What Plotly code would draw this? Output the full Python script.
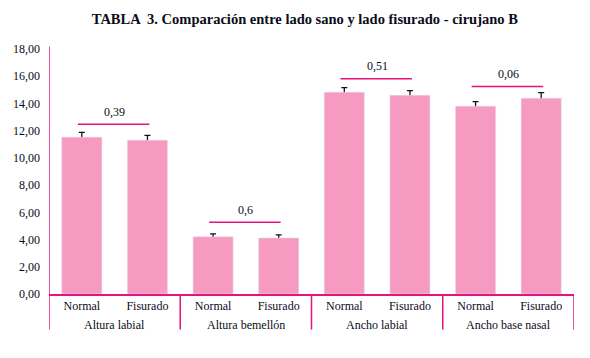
import plotly.graph_objects as go

groups = ["Altura labial", "Altura bemellón", "Ancho labial", "Ancho base nasal"]
sides = ["Normal", "Fisurado"]
values = [11.52, 11.30, 4.20, 4.12, 14.82, 14.60, 13.79, 14.38]
errors = [0.35, 0.35, 0.22, 0.22, 0.34, 0.34, 0.35, 0.42]
p_values = ["0,39", "0,6", "0,51", "0,06"]
bracket_y = [12.48, 5.27, 15.82, 15.24]
y_ticks = [0, 2, 4, 6, 8, 10, 12, 14, 16, 18]
y_tick_labels = ["0,00", "2,00", "4,00", "6,00", "8,00", "10,00", "12,00", "14,00", "16,00", "18,00"]

PINK = "#F69AC1"
MAG = "#E5127F"
TXT = "#0b0b1a"
FONT = "'Liberation Serif', 'Times New Roman', serif"

x = list(range(len(values)))
fig = go.Figure()
# bars with symmetric error bars
fig.add_trace(go.Bar(
    x=x, y=values, marker_color=PINK, width=0.61,
    error_y=dict(type="data", array=errors, color="#111111", thickness=1.3, width=3),
    hoverinfo="skip"))
# same bars drawn on top to hide the lower half of the error bars
fig.add_trace(go.Bar(
    x=x, y=values, marker_color=PINK, width=0.61, hoverinfo="skip"))

shapes = []
annotations = []
for g, name in enumerate(groups):
    x0 = 2 * g
    x1 = 2 * g + 1
    shapes.append(dict(type="line", xref="x", yref="y", x0=x0 - 0.06, x1=x1 + 0.03,
                       y0=bracket_y[g], y1=bracket_y[g], line=dict(color=MAG, width=1.5)))
    annotations.append(dict(x=(x0 + x1) / 2, y=bracket_y[g] + 0.9, xref="x", yref="y",
                            text=p_values[g], showarrow=False, yanchor="middle",
                            font=dict(family=FONT, size=12, color=TXT)))
    annotations.append(dict(x=(x0 + x1) / 2, y=-0.128, xref="x", yref="paper",
                            text=name, showarrow=False, yanchor="middle",
                            font=dict(family=FONT, size=12, color=TXT)))
for k in range(len(groups) + 1):
    shapes.append(dict(type="line", xref="x", yref="paper", x0=2 * k - 0.5, x1=2 * k - 0.5,
                       y0=-0.145, y1=0, line=dict(color=MAG, width=1.5)))
shapes.append(dict(type="line", xref="x", yref="paper", x0=-0.5, x1=-0.5,
                   y0=0, y1=1.01, line=dict(color=MAG, width=1.5)))

fig.update_layout(
    width=582, height=350,
    margin=dict(l=41, r=16, t=41, b=64),
    barmode="overlay",
    plot_bgcolor="white", paper_bgcolor="white",
    showlegend=False,
    title=dict(text="<b>TABLA  3. Comparación entre lado sano y lado fisurado - cirujano B</b>",
               x=0.51, xanchor="center", y=0.97, yanchor="middle",
               font=dict(family=FONT, size=14.5, color=TXT)),
    xaxis=dict(range=[-0.5, 7.5], tickvals=x, ticktext=sides * len(groups),
               showgrid=False, zeroline=False, showline=True, linecolor=MAG, linewidth=1.5,
               ticks="", automargin=False, tickfont=dict(family=FONT, size=12, color=TXT)),
    yaxis=dict(range=[0, 18], tickvals=y_ticks, ticktext=y_tick_labels,
               showgrid=False, zeroline=False, showline=False,
               ticks="", ticklabelstandoff=8, automargin=False,
               tickfont=dict(family=FONT, size=12, color=TXT)),
    shapes=shapes, annotations=annotations,
)
fig.write_html("out.html")
